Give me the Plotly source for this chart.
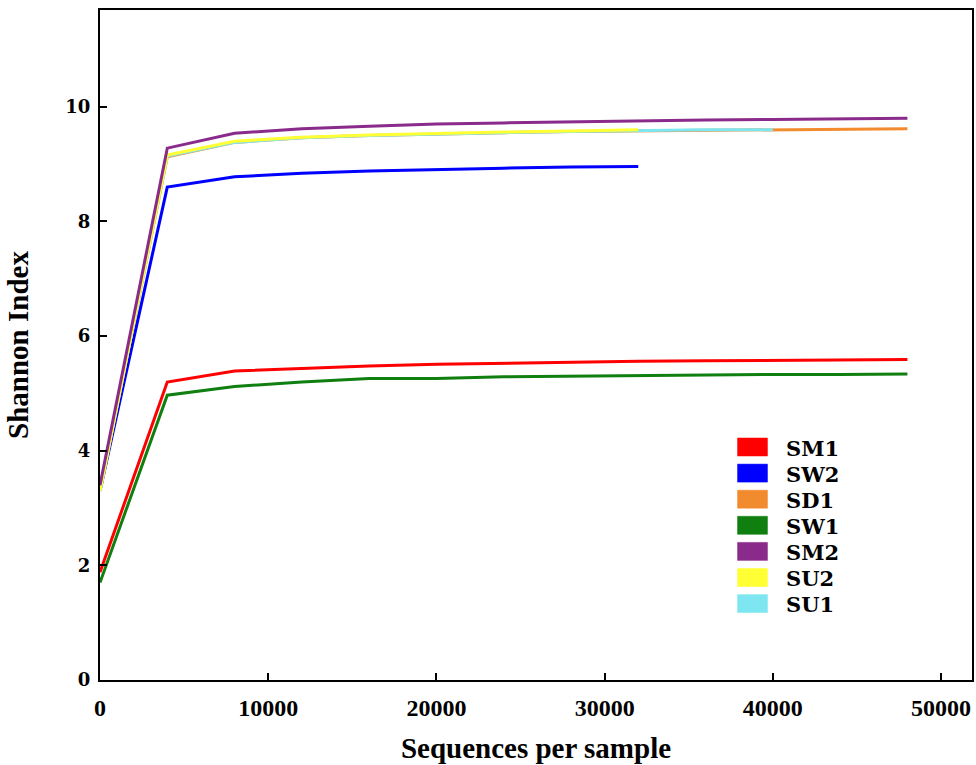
import plotly.graph_objects as go

x_full = [0, 4000, 8000, 12000, 16000, 20000, 24000, 28000, 32000, 36000, 40000, 44000, 48000]

SM1 = [1.88, 5.20, 5.39, 5.44, 5.48, 5.51, 5.53, 5.55, 5.56, 5.57, 5.58, 5.58, 5.59]
SW2 = [3.30, 8.60, 8.78, 8.84, 8.88, 8.91, 8.93, 8.95, 8.96]
SD1 = [3.30, 9.13, 9.38, 9.46, 9.50, 9.53, 9.55, 9.57, 9.58, 9.59, 9.60, 9.61, 9.62]
SW1 = [1.70, 4.97, 5.12, 5.20, 5.26, 5.26, 5.29, 5.30, 5.31, 5.33, 5.33, 5.33, 5.34]
SM2 = [3.40, 9.28, 9.54, 9.62, 9.66, 9.70, 9.72, 9.74, 9.75, 9.77, 9.78, 9.79, 9.80]
SU2 = [3.30, 9.16, 9.40, 9.47, 9.51, 9.54, 9.56, 9.58, 9.60]
SU1 = [3.30, 9.14, 9.38, 9.46, 9.50, 9.53, 9.55, 9.57, 9.59, 9.60, 9.60]

names = ["SM1", "SW2", "SD1", "SW1", "SM2", "SU2", "SU1"]
colors = {"SM1": "#ff0000", "SW2": "#0000ff", "SD1": "#f28a2e", "SW1": "#0f7f0f",
          "SM2": "#8a2a8a", "SU2": "#ffff33", "SU1": "#7ee6f0"}
data = {"SM1": SM1, "SW2": SW2, "SD1": SD1, "SW1": SW1, "SM2": SM2, "SU2": SU2, "SU1": SU1}

draw_order = ["SW1", "SM1", "SW2", "SD1", "SU1", "SU2", "SM2"]

fig = go.Figure()
for n in draw_order:
    y = data[n]
    fig.add_trace(go.Scatter(x=x_full[:len(y)], y=y, mode="lines", name=n,
                             line=dict(color=colors[n], width=3), showlegend=False))

# custom legend (square swatches) in paper coordinates
L, R, T, B = 100, 974, 10, 680
def px(x):
    return (x - L) / (R - L)
def py(y):
    return (B - y) / (B - T)

shapes = []
annotations = []
for i, n in enumerate(names):
    cy = 447 + 26.1 * i
    shapes.append(dict(type="rect", xref="paper", yref="paper",
                       x0=px(739), x1=px(769), y0=py(cy + 9), y1=py(cy - 9),
                       fillcolor=colors[n], line=dict(width=0.5, color=colors[n])))
    annotations.append(dict(xref="paper", yref="paper", x=px(786), y=py(cy + 1),
                            xanchor="left", yanchor="middle", showarrow=False, text=n,
                            font=dict(family="DejaVu Serif", size=21, color="black", weight="bold")))

fig.update_layout(
    width=976, height=765,
    margin=dict(l=L, r=976 - R, t=T, b=765 - B),
    paper_bgcolor="white", plot_bgcolor="white",
    showlegend=False,
    shapes=shapes, annotations=annotations,
    xaxis=dict(range=[0, 51840], tickvals=[0, 10000, 20000, 30000, 40000, 50000],
               ticktext=["0", "10000", "20000", "30000", "40000", "50000"],
               showgrid=False, zeroline=False, showline=True, linecolor="black", linewidth=2,
               mirror=True, ticks="inside", ticklen=7, tickcolor="black", tickwidth=1.5,
               ticklabelstandoff=5,
               tickfont=dict(family="Liberation Serif", size=24, color="black", weight="bold"),
               title=dict(text="Sequences per sample",
                          font=dict(family="Liberation Serif", size=29, color="black", weight="bold"),
                          standoff=18)),
    yaxis=dict(range=[0, 11.69], tickvals=[0, 2, 4, 6, 8, 10],
               showgrid=False, zeroline=False, showline=True, linecolor="black", linewidth=2,
               mirror=True, ticks="inside", ticklen=7, tickcolor="black", tickwidth=1.5,
               ticklabelstandoff=4,
               tickfont=dict(family="DejaVu Serif", size=18, color="black", weight="bold"),
               title=dict(text="Shannon Index",
                          font=dict(family="Liberation Serif", size=29, color="black", weight="bold"),
                          standoff=28)),
)

fig.write_html("out.html")
